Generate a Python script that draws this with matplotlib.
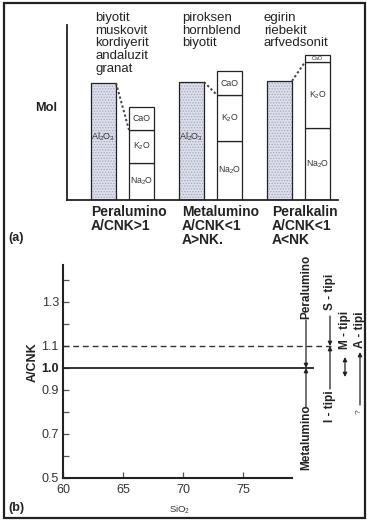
import numpy as np
import matplotlib.pyplot as plt
from matplotlib.patches import Rectangle
from matplotlib.transforms import blended_transform_factory

plt.rcParams['font.family'] = ['Liberation Sans', 'DejaVu Sans']
plt.rcParams['mathtext.fontset'] = 'custom'
plt.rcParams['mathtext.rm'] = 'Liberation Sans'
plt.rcParams['mathtext.it'] = 'Liberation Sans:italic'
plt.rcParams['mathtext.bf'] = 'Liberation Sans:bold'
plt.rcParams['hatch.linewidth'] = 0.6

# (a) molar amounts of Al2O3 vs CaO + K2O + Na2O for each group
groups = ['Peralumino\nA/CNK>1', 'Metalumino\nA/CNK<1\nA>NK.', 'Peralkalin\nA/CNK<1\nA<NK']
minerals = ['biyotit\nmuskovit\nkordiyerit\nandaluzit\ngranat',
            'piroksen\nhornblend\nbiyotit',
            'egirin\nriebekit\narfvedsonit']
al2o3 = np.array([117, 118, 119])
na2o = np.array([37, 59, 72])
k2o = np.array([33, 46, 66])
cao = np.array([23, 24, 7])

# (b) A/CNK vs SiO2 boundaries
sio2_ticks = [60, 65, 70, 75]
acnk_ticks = [0.5, 0.7, 0.9, 1.0, 1.1, 1.3]
acnk_minor = [0.6, 0.8, 1.2, 1.4]
meta_per = 1.0    # metalumino / peralumino
i_s = 1.1         # I-tipi / S-tipi

W, H = 367, 521
ink = '#222222'
fig = plt.figure(figsize=(W / 100, H / 100), dpi=100)

# overlay in pixel units for free text and the frame
ov = fig.add_axes([0, 0, 1, 1], zorder=5)
ov.set_xlim(0, W)
ov.set_ylim(H, 0)
ov.axis('off')
ov.add_patch(Rectangle((4, 3), 361, 515, fill=False, lw=1.6, ec=ink))

# ---------------- panel (a) ----------------
axa = fig.add_axes([67 / W, 1 - 200 / H, 271 / W, 175 / H])
axa.set_xlim(0, 271 / 88)
axa.set_ylim(0, 175)
for s in ['top', 'right']:
    axa.spines[s].set_visible(False)
for s in ['left', 'bottom']:
    axa.spines[s].set_linewidth(1.3)
    axa.spines[s].set_color(ink)
axa.set_xticks([])
axa.set_yticks([])
axa.patch.set_alpha(0)

x = np.arange(len(groups))
xa = x + 36.5 / 88
xk = xa + 38 / 88
w = 25 / 88

axa.bar(xa, al2o3, w, color='#dcdeea', hatch='......', edgecolor='#a3a7c2', linewidth=0)
axa.bar(xa, al2o3, w, fill=False, edgecolor=ink, linewidth=0.9)
axa.bar(xk, na2o, w, color='white', edgecolor=ink, linewidth=0.9)
axa.bar(xk, k2o, w, bottom=na2o, color='white', edgecolor=ink, linewidth=0.9)
axa.bar(xk, cao, w, bottom=na2o + k2o, color='white', edgecolor=ink, linewidth=0.9)

seg = dict(ha='center', va='center', color='#333333')
for i in range(len(groups)):
    axa.plot([xa[i] + w / 2, xk[i] - w / 2], [al2o3[i], na2o[i] + k2o[i]],
             ls=(0, (1.2, 1.2)), color='#444444', lw=1.4)
    axa.text(xk[i], na2o[i] / 2, 'Na$_2$O', fontsize=6.3, **seg)
    axa.text(xk[i], na2o[i] + k2o[i] / 2, 'K$_2$O', fontsize=6.3, **seg)
    axa.text(xk[i], na2o[i] + k2o[i] + cao[i] / 2, 'CaO',
             fontsize=6.3 if cao[i] > 12 else 4, **seg)
    if i < 2:
        axa.text(xa[i], al2o3[i] * 0.54, 'Al$_2$O$_3$', fontsize=6.5, **seg)

min_x = [95, 182, 264]
grp_x = [91, 182, 272]
for i in range(len(groups)):
    ov.text(min_x[i], 12, minerals[i], ha='left', va='top', fontsize=9.5,
            linespacing=1.08, color=ink)
    ov.text(grp_x[i], 205, groups[i], ha='left', va='top', fontsize=10,
            fontweight='bold', linespacing=1.0, color=ink)

ov.text(46, 108, 'Mol', ha='center', va='center', fontsize=9.2, fontweight='bold', color=ink)
ov.text(8, 238, '(a)', ha='left', va='center', fontsize=9, fontweight='bold', color=ink)

# ---------------- panel (b) ----------------
axb = fig.add_axes([63 / W, 1 - 478 / H, 229 / W, 213 / H])
axb.set_xlim(60, 60 + 229 / 12)
axb.set_ylim(0.5, 0.5 + 213 / 220)
for s in ['top', 'right']:
    axb.spines[s].set_visible(False)
for s in ['left', 'bottom']:
    axb.spines[s].set_linewidth(1.5)
    axb.spines[s].set_color(ink)
axb.patch.set_alpha(0)

axb.set_xticks(sio2_ticks)
axb.set_yticks(acnk_ticks)
axb.set_yticks(acnk_minor, minor=True)
axb.set_yticklabels([f'{v:.1f}' for v in acnk_ticks])
axb.tick_params(which='both', direction='in', length=4, width=0.9, color='#555555',
                labelsize=9, labelcolor='#333333')
axb.tick_params(axis='y', pad=3)
axb.tick_params(axis='x', pad=4)
for lab in axb.get_yticklabels():
    if lab.get_text() == '1.0':
        lab.set_fontweight('bold')
        lab.set_color(ink)

axb.plot([60, 80.8], [meta_per, meta_per], color=ink, lw=1.3, clip_on=False)
axb.plot([60, 82.3], [i_s, i_s], color='#333333', lw=1.0, ls=(0, (4.2, 2.8)), clip_on=False)

ov.text(33, 362, 'A/CNK', rotation=90, ha='center', va='center', fontsize=9,
        fontweight='bold', color=ink)
ov.text(180, 510, 'SiO$_2$', ha='center', va='center', fontsize=6.8, color='#333333')
ov.text(8, 508, '(b)', ha='left', va='center', fontsize=9, fontweight='bold', color=ink)

# arrows pointing at the boundary levels
tr = blended_transform_factory(ov.transData, axb.transData)
arrow = dict(arrowstyle='-|>', lw=0.9, color=ink, mutation_scale=6, shrinkA=0, shrinkB=0)


def pointer(xp, y_from, level):
    ov.annotate('', xy=(xp, level), xycoords=tr, xytext=(xp, y_from),
                textcoords=ov.transData, arrowprops=arrow, annotation_clip=False)


lbl = dict(rotation=90, ha='center', va='center', fontsize=8.5, fontweight='bold', color=ink)
ov.text(306, 287, 'Peralumino', **lbl)
pointer(306, 320, meta_per)
ov.text(306, 437, 'Metalumino', **lbl)
pointer(306, 407, meta_per)

ov.text(330, 292, 'S - tipi', **lbl)
pointer(330, 316, i_s)
ov.text(330, 406, 'I - tipi', **lbl)
pointer(330, 389, i_s)

ov.text(345, 330, 'M - tipi', **lbl)
ov.annotate('', xy=(345, 357), xytext=(345, 377),
            arrowprops=dict(arrowstyle='<|-|>', lw=0.9, color=ink, mutation_scale=6,
                            shrinkA=0, shrinkB=0))

ov.text(360, 330, 'A - tipi', **lbl)
ov.annotate('', xy=(360, 352), xytext=(360, 405), arrowprops=arrow)
ov.text(359, 412, '?', rotation=90, ha='center', va='center', fontsize=6, color='#444444')

fig.savefig('out.png', dpi=100)
